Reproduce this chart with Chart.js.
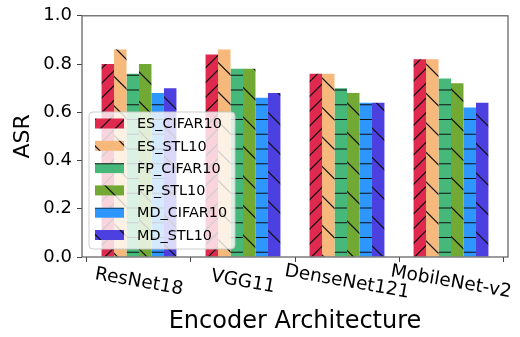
<!DOCTYPE html>
<html>
<head>
<meta charset="utf-8">
<script src="https://cdn.jsdelivr.net/npm/chart.js@4/dist/chart.umd.min.js"></script>
<style>
html,body{margin:0;padding:0;background:#fff;}
canvas{display:block;}
</style>
</head>
<body>
<canvas id="c" width="520" height="337"></canvas>
<script>
const categories = ['ResNet18', 'VGG11', 'DenseNet121', 'MobileNet-v2'];
const seriesNames = ['ES_CIFAR10', 'ES_STL10', 'FP_CIFAR10', 'FP_STL10', 'MD_CIFAR10', 'MD_STL10'];
const esCifar10 = [0.80, 0.84, 0.76, 0.82];
const esStl10   = [0.86, 0.86, 0.76, 0.82];
const fpCifar10 = [0.76, 0.78, 0.70, 0.74];
const fpStl10   = [0.80, 0.78, 0.68, 0.72];
const mdCifar10 = [0.68, 0.66, 0.64, 0.62];
const mdStl10   = [0.70, 0.68, 0.64, 0.64];
const yTicks = [0.0, 0.2, 0.4, 0.6, 0.8, 1.0];
const xTitle = 'Encoder Architecture';
const yTitle = 'ASR';

const seriesValues = [esCifar10, esStl10, fpCifar10, fpStl10, mdCifar10, mdStl10];
const colors = ['#E0294F', '#F6B97B', '#46B97A', '#72A834', '#2D96FF', '#4C40E0'];
const hatches = ['//', '\\', '-', '\\', '-', '\\'];

function makePattern(color, hatch) {
  const s = 59;
  const t = document.createElement('canvas');
  t.width = s; t.height = s;
  const g = t.getContext('2d');
  g.fillStyle = color;
  g.fillRect(0, 0, s, s);
  g.strokeStyle = '#111';
  g.lineWidth = 1.2;
  g.beginPath();
  if (hatch === '//') {
    const c = 7.8, p = 14.75;
    for (let k = -2; k <= 10; k++) {
      const v = c + p * k;
      g.moveTo(-5, v + 5); g.lineTo(v + 5, -5);
    }
  } else if (hatch === '\\') {
    const c = 21.4, p = 29.5;
    for (let k = -4; k <= 4; k++) {
      const v = c + p * k;
      g.moveTo(-5, v - 5); g.lineTo(s + 5, v + s + 5);
    }
  } else {
    const c = 1.5, p = 14.75;
    for (let k = 0; k < 4; k++) {
      const y = c + p * k;
      g.moveTo(0, y); g.lineTo(s, y);
    }
  }
  g.stroke();
  return g.createPattern(t, 'repeat');
}

const ctx = document.getElementById('c').getContext('2d');
const patterns = colors.map((c, i) => makePattern(c, hatches[i]));

const datasets = seriesNames.map((name, i) => ({
  label: name,
  data: seriesValues[i].map((v, j) => ({ x: j, y: v })),
  backgroundColor: patterns[i],
  borderWidth: 0,
  barPercentage: 1.0,
  categoryPercentage: 0.72
}));

const FONT = "'DejaVu Sans', sans-serif";

const framePlugin = {
  id: 'frame',
  afterDatasetsDraw(chart) {
    const a = chart.chartArea, c = chart.ctx;
    c.save();
    c.strokeStyle = '#5a5a5a';
    c.lineWidth = 1.2;
    c.strokeRect(a.left, a.top, a.right - a.left, a.bottom - a.top);
    c.restore();
  }
};

const xLabelPlugin = {
  id: 'xlabels',
  afterDraw(chart) {
    const c = chart.ctx, xs = chart.scales.x, a = chart.chartArea;
    c.save();
    c.fillStyle = '#000';
    c.font = '18.5px ' + FONT;
    c.textAlign = 'center';
    c.textBaseline = 'middle';
    categories.forEach((lab, i) => {
      const x = xs.getPixelForValue(i);
      c.save();
      c.translate(x, a.bottom + 25);
      c.rotate(10 * Math.PI / 180);
      c.fillText(lab, 0, 0);
      c.restore();
    });
    c.font = '24px ' + FONT;
    c.fillText(xTitle, (a.left + a.right) / 2, 322);
    c.restore();
  }
};

const legendPlugin = {
  id: 'customLegend',
  afterDraw(chart) {
    const c = chart.ctx;
    const bx = 89, by = 112, bw = 146, bh = 137, r = 4;
    c.save();
    c.beginPath();
    c.moveTo(bx + r, by);
    c.arcTo(bx + bw, by, bx + bw, by + bh, r);
    c.arcTo(bx + bw, by + bh, bx, by + bh, r);
    c.arcTo(bx, by + bh, bx, by, r);
    c.arcTo(bx, by, bx + bw, by, r);
    c.closePath();
    c.fillStyle = 'rgba(255,255,255,0.8)';
    c.fill();
    c.strokeStyle = 'rgba(200,200,200,0.9)';
    c.lineWidth = 1;
    c.stroke();
    c.font = '14.4px ' + FONT;
    c.textAlign = 'left';
    c.textBaseline = 'middle';
    seriesNames.forEach((name, i) => {
      const y = 123.5 + i * 22.3;
      c.fillStyle = patterns[i];
      c.fillRect(95, y - 5, 29, 10);
      c.fillStyle = '#000';
      c.fillText(name, 137, y + 1);
    });
    c.restore();
  }
};

new Chart(ctx, {
  type: 'bar',
  data: { datasets },
  options: {
    responsive: false,
    animation: false,
    devicePixelRatio: 1,
    layout: { padding: { top: 15, right: 12, left: 0, bottom: 0 } },
    plugins: { legend: { display: false }, tooltip: { enabled: false } },
    scales: {
      x: {
        type: 'linear',
        min: -0.548, max: 3.548,
        offset: false,
        afterBuildTicks(s) { s.ticks = categories.map((_, i) => ({ value: i })); },
        ticks: { display: false },
        grid: { display: true, drawOnChartArea: false, drawTicks: true, tickLength: 5, color: '#444' },
        border: { display: false },
        afterFit(s) { s.height = 80; }
      },
      y: {
        min: 0, max: 1,
        afterBuildTicks(s) { s.ticks = yTicks.map(v => ({ value: v })); },
        ticks: {
          color: '#000',
          font: { family: FONT, size: 18 },
          padding: 5,
          callback: v => Number(v).toFixed(1)
        },
        grid: { display: true, drawOnChartArea: false, drawTicks: true, tickLength: 5, color: '#444' },
        border: { display: false },
        title: { display: true, text: yTitle, color: '#000', font: { family: FONT, size: 22 }, padding: { top: 10, bottom: 0 } },
        afterFit(s) { s.width = 82; }
      }
    }
  },
  plugins: [framePlugin, xLabelPlugin, legendPlugin]
});
</script>
</body>
</html>
